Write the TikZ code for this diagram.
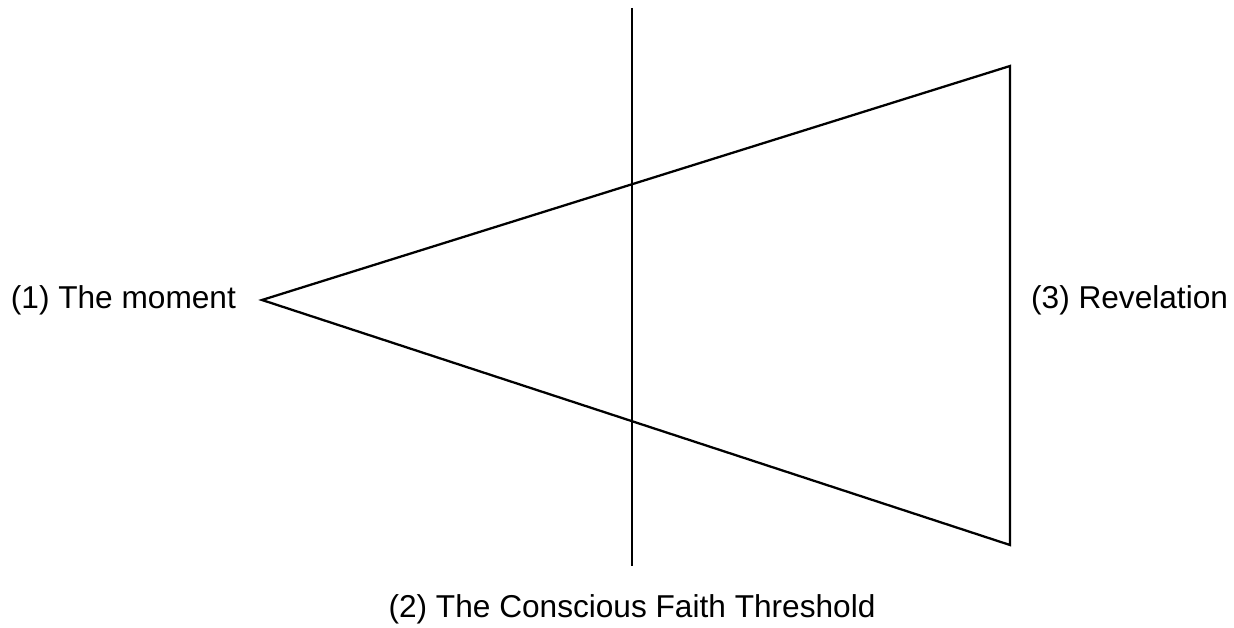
\documentclass[tikz,border=0pt]{standalone}
\usepackage{fontspec}
\setmainfont{Liberation Sans}
\usetikzlibrary{positioning}

\begin{document}
\begin{tikzpicture}[
		x=0.02cm, y=-0.02cm,
		line width=1.3pt,
		line join=miter,
		tag/.style={inner sep=0pt, font=\fontsize{18}{21}\selectfont}
		]
		\useasboundingbox (0,0) rectangle (1234,628);
		
		% Corners of the triangle
		\coordinate (moment) at (262,300);
		\coordinate (revtop) at (1010,66);
		\coordinate (revbot) at (1010,545);
		
		% Threshold line ends
		\coordinate (thrtop) at (632,8);
		\coordinate (thrbot) at (632,566);
		
		% Triangle and threshold
		\draw (moment) -- (revtop) -- (revbot) -- cycle;
		\draw (thrtop) -- (thrbot);
		
		% Labels
		\node[tag, left=0.5cm of moment] (momentlbl) {(1) The moment};
		\node[tag, right=0.4cm of revtop|-moment] (revlbl) {(3) Revelation};
		\node[tag, below=0.54cm of thrbot] (thrlbl) {(2) The Conscious Faith Threshold};
		
	\end{tikzpicture}
\end{document}
